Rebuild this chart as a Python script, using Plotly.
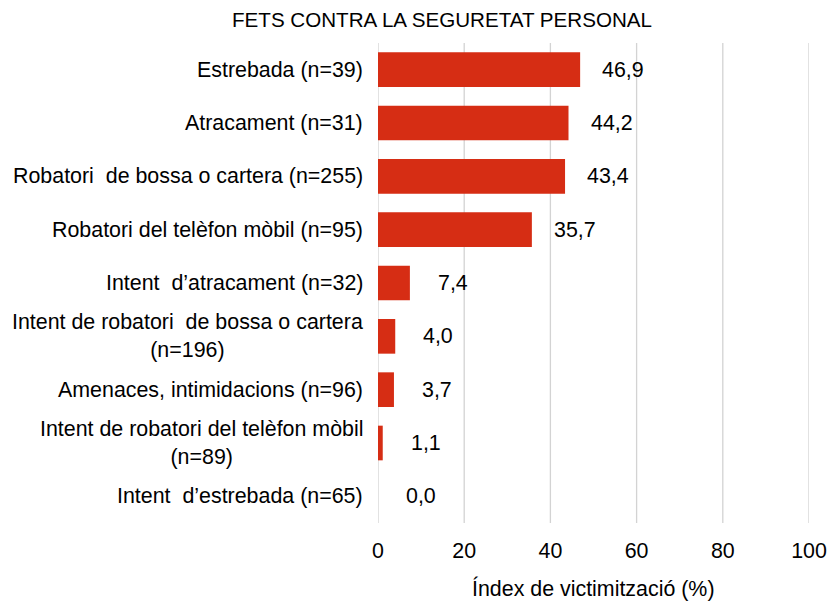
import plotly.graph_objects as go

title = "FETS CONTRA LA SEGURETAT PERSONAL"
categories = [
    "Estrebada (n=39)",
    "Atracament (n=31)",
    "Robatori  de bossa o cartera (n=255)",
    "Robatori del telèfon mòbil (n=95)",
    "Intent  d’atracament (n=32)",
    "Intent de robatori  de bossa o cartera<br>(n=196)",
    "Amenaces, intimidacions (n=96)",
    "Intent de robatori del telèfon mòbil<br>(n=89)",
    "Intent  d’estrebada (n=65)",
]
values = [46.9, 44.2, 43.4, 35.7, 7.4, 4.0, 3.7, 1.1, 0.0]
x_ticks = [0, 20, 40, 60, 80, 100]
x_title = "Índex de victimització (%)"

FONT = "Liberation Sans, Arial, sans-serif"
BAR = "#d62d14"
GRID = "#d3d3d3"
W, H = 830, 602

fig = go.Figure()
fig.add_trace(go.Bar(
    x=values, y=categories, orientation="h",
    marker=dict(color=BAR, line=dict(width=0)),
    hoverinfo="skip",
))

# vertical gridlines at every tick value (including the range ends)
for t in x_ticks:
    fig.add_shape(type="line", xref="x", yref="paper", x0=t, x1=t, y0=0, y1=1,
                  line=dict(color=GRID, width=1.3), layer="below")

annotations = []
for c, v in zip(categories, values):
    annotations.append(dict(
        x=0, xref="paper", y=c, yref="y", text=c, showarrow=False,
        xanchor="right", yanchor="middle", align="center", xshift=-13,
        font=dict(family=FONT, size=21.4, color="#000000"),
    ))
    annotations.append(dict(
        x=v, xref="x", y=c, yref="y", text=f"{v:.1f}".replace(".", ","),
        showarrow=False, xanchor="center", yanchor="middle", xshift=43,
        font=dict(family=FONT, size=21.4, color="#000000"),
    ))
annotations.append(dict(
    x=0.5, xref="paper", y=0, yref="paper", text=x_title, showarrow=False,
    xanchor="center", yanchor="middle", yshift=-65,
    font=dict(family=FONT, size=21.4, color="#000000"),
))

fig.update_layout(
    template="none",
    width=W, height=H,
    margin=dict(l=378, r=21, t=43, b=79, autoexpand=False),
    paper_bgcolor="white", plot_bgcolor="white",
    bargap=0.35,
    showlegend=False,
    title=dict(text=title, x=442 / W, xref="container", xanchor="center",
               y=1 - 19.5 / H, yref="container", yanchor="middle",
               font=dict(family=FONT, size=20.6, color="#000000")),
    xaxis=dict(range=[0, 100], tickvals=x_ticks, ticktext=[str(t) for t in x_ticks],
               showgrid=False, zeroline=False, showline=False, ticks="",
               automargin=False, ticklabelstandoff=13,
               tickfont=dict(family=FONT, size=21.4, color="#000000")),
    yaxis=dict(categoryorder="array", categoryarray=categories,
               autorange="reversed", showticklabels=False, showgrid=False,
               zeroline=False, showline=False, ticks="", automargin=False),
    annotations=annotations,
)

fig.write_html(
    "out.html",
    config=dict(displayModeBar=False),
    post_script="document.body.style.margin='0';document.body.style.overflow='hidden';",
)
